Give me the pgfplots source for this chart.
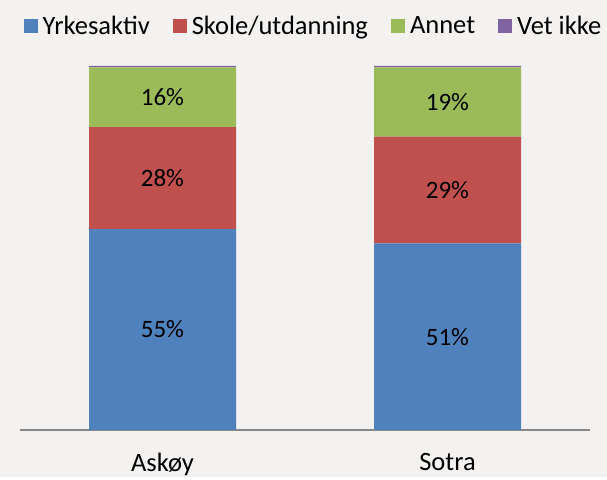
\documentclass[border=0pt]{standalone}
\usepackage{fontspec}
\setmainfont{Carlito}
\usepackage{pgfplots}
\pgfplotsset{compat=1.18}
\definecolor{bgc}{HTML}{F3F2F0}
\definecolor{c1}{HTML}{4F81BD}
\definecolor{c2}{HTML}{C0504D}
\definecolor{c3}{HTML}{9BBB59}
\definecolor{c4}{HTML}{8064A2}
\definecolor{axc}{HTML}{878787}
\pgfplotsset{
  sq legend/.style={legend image code/.code={\fill[##1,draw=none] (0pt,-7pt) rectangle (14pt,7pt);\path (17pt,0pt);}},
  mid label/.style={
    point meta=rawy,
    nodes near coords={\pgfmathprintnumber[fixed,precision=0,assume math mode=true]{\pgfplotspointmeta}\%},
    every node near coord/.style={anchor=center, font=\fontsize{25}{30}\selectfont, text=black},
  },
}
\begin{document}
\begin{tikzpicture}
\fill[bgc] (0,0) rectangle (607pt,477pt);
\begin{axis}[
  at={(20pt,47pt)}, anchor=south west,
  scale only axis, width=570pt, height=364pt,
  ybar stacked, bar width=147pt,
  xmin=-0.5, xmax=1.5, ymin=0, ymax=100,
  axis x line*=bottom, hide y axis,
  x axis line style={draw=axc, line width=1.2pt},
  xtick={0,1}, xticklabels={Askøy,Sotra},
  major tick length=0pt, ytick=\empty,
  xticklabel style={font=\fontsize{26.5}{31}\selectfont, text=black, yshift=-20pt},
  legend columns=4,
  legend style={at={(0.5,1)}, anchor=center, xshift=8.5pt, yshift=40pt, draw=none, fill=none,
    font=\fontsize{26.5}{32}\selectfont, text=black,
    /tikz/every even column/.append style={column sep=21pt}},
]
\addplot+[fill=c1, draw=none, sq legend, mid label] coordinates {(0,55.2) (1,51.3)};
\addplot+[fill=c2, draw=none, sq legend, mid label] coordinates {(0,28.0) (1,29.3)};
\addplot+[fill=c3, draw=none, sq legend, mid label] coordinates {(0,16.4) (1,19.0)};
\addplot+[fill=c4, draw=none, sq legend] coordinates {(0,0.4) (1,0.4)};
\legend{Yrkesaktiv, Skole/utdanning, Annet, Vet ikke}
\end{axis}
\end{tikzpicture}
\end{document}
